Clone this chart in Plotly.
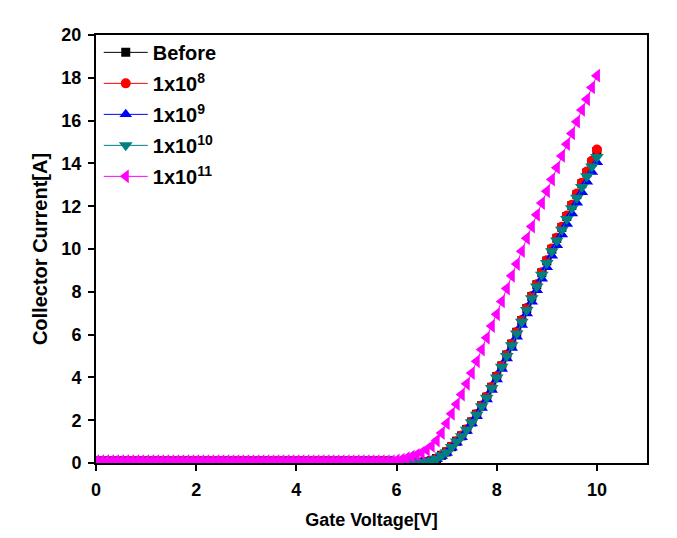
import plotly.graph_objects as go

# Gate voltage grid 0.0 .. 10.0 V, step 0.1 (written out)
gate_v = [round(i / 10, 1) for i in range(0, 101)]

# leakage region 0.0 .. 5.9 V (60 points), shared by all series
leak = [0.08, 0.08, 0.08, 0.08, 0.08, 0.08, 0.08, 0.08, 0.08, 0.08,
        0.08, 0.08, 0.08, 0.08, 0.08, 0.08, 0.08, 0.08, 0.08, 0.08,
        0.08, 0.08, 0.08, 0.08, 0.08, 0.08, 0.08, 0.08, 0.08, 0.08,
        0.08, 0.08, 0.08, 0.08, 0.08, 0.08, 0.08, 0.08, 0.08, 0.08,
        0.08, 0.08, 0.08, 0.08, 0.08, 0.08, 0.08, 0.08, 0.08, 0.08,
        0.08, 0.08, 0.08, 0.08, 0.08, 0.08, 0.08, 0.08, 0.08, 0.08]

# 6.0 .. 10.0 V (41 points)
before_hi = [0.06, 0.05, 0.04, 0.03, 0.03, 0.03, 0.06, 0.11, 0.21, 0.36,
             0.52, 0.76, 1.02, 1.27, 1.57, 1.92, 2.28, 2.68, 3.08, 3.54,
             4.04, 4.54, 5.05, 5.56, 6.11, 6.66, 7.22, 7.78, 8.33, 8.89,
             9.44, 9.99, 10.50, 11.01, 11.52, 12.03, 12.54, 13.05, 13.56, 14.04, 14.55]
e8_hi = [0.06, 0.05, 0.04, 0.03, 0.03, 0.03, 0.06, 0.11, 0.21, 0.36,
         0.52, 0.77, 1.02, 1.28, 1.58, 1.93, 2.29, 2.69, 3.09, 3.55,
         4.05, 4.55, 5.06, 5.57, 6.12, 6.68, 7.24, 7.80, 8.35, 8.91,
         9.47, 10.02, 10.53, 11.04, 11.56, 12.07, 12.59, 13.10, 13.62, 14.12, 14.65]
e9_hi = [0.06, 0.05, 0.04, 0.03, 0.02, 0.01, 0.04, 0.09, 0.18, 0.32,
         0.47, 0.71, 0.95, 1.20, 1.50, 1.84, 2.18, 2.57, 2.97, 3.41,
         3.90, 4.39, 4.88, 5.37, 5.90, 6.45, 6.99, 7.53, 8.07, 8.61,
         9.15, 9.69, 10.18, 10.68, 11.17, 11.66, 12.16, 12.65, 13.14, 13.60, 14.05]
e10_hi = [0.06, 0.05, 0.04, 0.03, 0.02, 0.02, 0.05, 0.10, 0.20, 0.35,
          0.50, 0.75, 1.00, 1.25, 1.55, 1.90, 2.25, 2.65, 3.05, 3.50,
          4.00, 4.50, 5.00, 5.50, 6.05, 6.60, 7.15, 7.70, 8.25, 8.80,
          9.35, 9.90, 10.40, 10.90, 11.40, 11.90, 12.40, 12.90, 13.40, 13.85, 14.30]
e11_hi = [0.12, 0.16, 0.22, 0.30, 0.38, 0.48, 0.62, 0.80, 1.05, 1.40,
          1.85, 2.30, 2.75, 3.20, 3.70, 4.20, 4.75, 5.30, 5.85, 6.40,
          6.95, 7.55, 8.15, 8.75, 9.30, 9.90, 10.50, 11.05, 11.60, 12.15,
          12.70, 13.25, 13.80, 14.35, 14.90, 15.40, 15.95, 16.50, 17.00, 17.55, 18.10]

series_names = ["Before", "1x10<sup>8</sup>", "1x10<sup>9</sup>",
                "1x10<sup>10</sup>", "1x10<sup>11</sup>"]
series_values = [leak + before_hi, leak + e8_hi, leak + e9_hi,
                 leak + e10_hi, leak + e11_hi]
colors = ["#000000", "#FF0000", "#0000FF", "#008080", "#FF00FF"]
symbols = ["square", "circle", "triangle-up", "triangle-down", "triangle-left"]
sizes = [9, 10, 11, 12, 12]

x_ticks = [0, 2, 4, 6, 8, 10]
y_ticks = [0, 2, 4, 6, 8, 10, 12, 14, 16, 18, 20]

FONT = "Liberation Sans, Arial, sans-serif"

fig = go.Figure()
for i, (name, vals, c, s, sz) in enumerate(zip(series_names, series_values, colors, symbols, sizes)):
    fig.add_trace(go.Scatter(
        x=gate_v, y=vals, name=name, mode="lines+markers",
        legendgroup="g%d" % i,
        line=dict(color=c, width=1),
        marker=dict(symbol=s, size=sz, color=c, line=dict(width=0)),
    ))

axis_common = dict(
    showline=True, linecolor="black", linewidth=2, mirror=True,
    ticks="outside", ticklen=6, tickwidth=2, tickcolor="black",
    showgrid=False, zeroline=False, automargin=False,
    tickfont=dict(family=FONT, size=18, color="black", weight="bold"),
)

# The page body has an 8px margin, so the figure is sized/offset to fit the window.
fig.update_layout(
    width=661, height=522,
    margin=dict(l=88, r=22, t=27, b=67),
    paper_bgcolor="white", plot_bgcolor="white",
    showlegend=True,
    legend=dict(
        x=0.005, y=1.005, xanchor="left", yanchor="top",
        bgcolor="rgba(0,0,0,0)", borderwidth=0,
        itemwidth=44,
        font=dict(family=FONT, size=20, color="black", weight="bold"),
        tracegroupgap=2,
    ),
    xaxis=dict(range=[0, 11], tickvals=x_ticks, ticklabelstandoff=3,
               title=dict(text="Gate Voltage[V]", standoff=19,
                          font=dict(family=FONT, size=18, color="black", weight="bold")),
               **axis_common),
    yaxis=dict(range=[0, 20], tickvals=y_ticks, ticklabelstandoff=3,
               title=dict(text="Collector Current[A]", standoff=8,
                          font=dict(family=FONT, size=20, color="black", weight="bold")),
               **axis_common),
)

fig.write_html("out.html")
